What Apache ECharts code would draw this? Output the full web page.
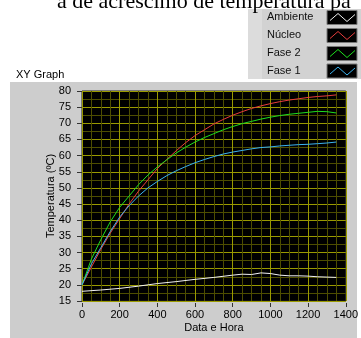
<!DOCTYPE html>
<html><head><meta charset="utf-8">
<script src="https://cdn.jsdelivr.net/npm/echarts@6/dist/echarts.min.js"></script>
<style>html,body{margin:0;padding:0;background:#fff;}#c{width:361px;height:338px;}</style>
</head><body><div id="c"></div>
<script>
const timeX   = [0,50,100,150,200,250,300,350,400,450,500,550,600,650,700,750,800,850,900,950,1000,1050,1100,1150,1200,1250,1300,1350];
const nucleo  = [20,25.5,31,36,40.5,45,49,52.5,56,58.8,61.5,64,66.2,68,69.8,71.2,72.5,73.6,74.6,75.4,76.1,76.7,77.2,77.6,78,78.3,78.5,78.8];
const fase2   = [20,28,34,39.5,44,47.5,51,54,56.5,58.7,60.8,62.6,64.2,65.6,66.8,68,69,69.9,70.6,71.3,71.9,72.4,72.8,73.1,73.4,73.7,73.6,73.2];
const fase1   = [20,26.5,31.5,36.5,41,44.5,47.5,50,52,53.8,55.3,56.6,57.8,58.8,59.7,60.5,61.1,61.6,62.1,62.5,62.7,63,63.2,63.4,63.5,63.7,63.9,64.2];
const ambX    = [0,100,200,300,400,500,600,700,800,850,900,950,1000,1050,1100,1150,1200,1250,1300,1350];
const ambiente= [18,18.4,18.9,19.6,20.4,21,21.7,22.3,23,23.3,23.2,23.7,23.5,23,22.8,22.8,22.7,22.5,22.4,22.3];
const seriesNames  = ['Ambiente','Núcleo','Fase 2','Fase 1'];
const seriesColors = ['#f2f2f2','#e83c3c','#1ee01e','#3cb4f0'];
const titleText = 'a de acréscimo de temperatura pa';

const pairs = (xs, ys) => xs.map((x, i) => [x, ys[i]]);
const seriesData = [pairs(ambX, ambiente), pairs(timeX, nucleo), pairs(timeX, fase2), pairs(timeX, fase1)];

const FONT = 'Liberation Sans';
const chart = echarts.init(document.getElementById('c'), null, {renderer: 'canvas'});

const graphics = [
  {type:'rect', shape:{x:10, y:82, width:347, height:256}, style:{fill:'#cdcdcd'}, z:-10},
  {type:'rect', shape:{x:248, y:9, width:113, height:70}, style:{fill:'#d2d2d2'}, z:-10},
  {type:'rect', shape:{x:248, y:9, width:14, height:70}, style:{fill:'#dcdcdc'}, z:-9},
  {type:'text', left: 57, top: -9, z: 5, style:{text: titleText, font: '22px "Liberation Serif"', fill:'#000'}},
  {type:'text', left: 16, top: 69, style:{text:'XY Graph', font:'11px "' + FONT + '"', fill:'#000'}}
];
const rowY = [17.5, 35.5, 53.5, 71];
seriesNames.forEach((n, i) => {
  const cy = rowY[i];
  graphics.push({type:'text', left: 267, top: cy - 6, style:{text:n, font:'11px "' + FONT + '"', fill:'#111'}});
  graphics.push({type:'rect', shape:{x:327, y:cy-7, width:30, height:14}, style:{fill:'#000', stroke:'#7a7a7a', lineWidth:1}});
  graphics.push({type:'polyline', shape:{points:[[330,cy+3],[338,cy-4],[347,cy+4],[355,cy-3]]}, style:{stroke:seriesColors[i], lineWidth:1, fill:null}});
});

chart.setOption({
  animation: false,
  backgroundColor: '#fff',
  grid: {left: 82, top: 91, width: 264, height: 216, show: true, backgroundColor: '#000', borderColor: '#222', borderWidth: 1},
  xAxis: {
    type: 'value', min: 0, max: 1400, interval: 200, offset: 2,
    name: 'Data e Hora', nameLocation: 'middle', nameGap: 19, nameMoveOverlap: false,
    nameTextStyle: {fontFamily: FONT, fontSize: 11, color: '#000'},
    axisLine: {show: false},
    axisTick: {show: true, length: 4, lineStyle: {color: '#333'}},
    axisLabel: {margin: 6, fontFamily: FONT, fontSize: 11, color: '#000', formatter: v => String(v)},
    splitLine: {show: true, lineStyle: {color: '#9a9a00', width: 1}},
    minorTick: {show: false, splitNumber: 4},
    minorSplitLine: {show: true, lineStyle: {color: '#4e4e00', width: 1}}
  },
  yAxis: {
    type: 'value', min: 15, max: 80, interval: 5, offset: 4,
    name: 'Temperatura (ºC)', nameLocation: 'middle', nameGap: 22, nameMoveOverlap: false,
    nameTextStyle: {fontFamily: FONT, fontSize: 11, color: '#000'},
    axisLine: {show: false},
    axisTick: {show: true, length: 5, lineStyle: {color: '#333'}},
    axisLabel: {margin: 7, fontFamily: FONT, fontSize: 11, color: '#000', formatter: v => String(v)},
    splitLine: {show: true, lineStyle: {color: '#9a9a00', width: 1}},
    minorTick: {show: false, splitNumber: 2},
    minorSplitLine: {show: true, lineStyle: {color: '#4e4e00', width: 1}}
  },
  series: seriesNames.map((n, i) => ({
    name: n, type: 'line', data: seriesData[i], showSymbol: false, symbol: 'none',
    lineStyle: {color: seriesColors[i], width: 1}, z: 3
  })),
  graphic: graphics
});
</script></body></html>
